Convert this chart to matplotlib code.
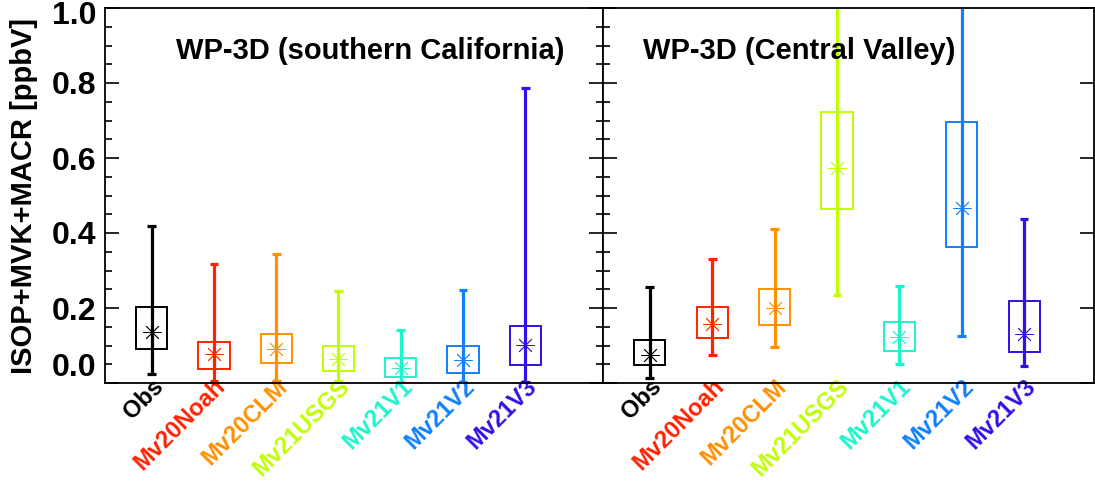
import numpy as np
import matplotlib
matplotlib.use('Agg')
import matplotlib.pyplot as plt
from matplotlib.ticker import MultipleLocator, FuncFormatter

plt.rcParams['font.family'] = 'Liberation Sans'
plt.rcParams['font.weight'] = 'bold'
plt.rcParams['axes.labelweight'] = 'bold'

labels = ['Obs', 'Mv20Noah', 'Mv20CLM', 'Mv21USGS', 'Mv21V1', 'Mv21V2', 'Mv21V3']
colors = ['#000000', '#FF2200', '#FF9000', '#BFFF00', '#1CF5CC', '#1080FF', '#3010E8']

# southern California: whisker low, box low, centre star, box high, whisker high
socal_lo = [0.024, 0.005, 0.005, 0.005, 0.002, 0.002, 0.002]
socal_q1 = [0.090, 0.037, 0.054, 0.033, 0.016, 0.028, 0.049]
socal_mid = [0.135, 0.077, 0.092, 0.065, 0.039, 0.062, 0.102]
socal_q3 = [0.203, 0.110, 0.130, 0.100, 0.067, 0.100, 0.152]
socal_hi = [0.419, 0.318, 0.343, 0.245, 0.141, 0.249, 0.787]

# Central Valley
cv_lo = [0.014, 0.074, 0.096, 0.236, 0.050, 0.126, 0.046]
cv_q1 = [0.049, 0.119, 0.154, 0.463, 0.086, 0.362, 0.083]
cv_mid = [0.074, 0.158, 0.199, 0.574, 0.124, 0.466, 0.131]
cv_q3 = [0.116, 0.202, 0.251, 0.723, 0.164, 0.696, 0.220]
cv_hi = [0.256, 0.331, 0.412, 1.100, 0.260, 1.200, 0.437]

fig = plt.figure(figsize=(10.95, 4.82), dpi=100)
ax1 = fig.add_axes([105/1095, 99/482, 498/1095, 375/482])
ax2 = fig.add_axes([603/1095, 99/482, 491/1095, 375/482])


def draw_boxes(ax, lo, q1, mid, q3, hi):
    x = np.arange(len(labels))
    ax.vlines(x, lo, hi, colors=colors, lw=2.3, zorder=2)
    ax.hlines(lo, x - 0.07, x + 0.07, colors=colors, lw=2.3, zorder=2)
    ax.hlines(hi, x - 0.07, x + 0.07, colors=colors, lw=2.3, zorder=2)
    ax.bar(x, np.array(q3) - np.array(q1), bottom=q1, width=0.5, fill=False,
           edgecolor=colors, lw=1.4, zorder=3)
    for xi, m, c in zip(x, mid, colors):
        ax.plot(xi, m, marker=(8, 2, 0), ms=13, mew=0.6, color=c, zorder=4)


draw_boxes(ax1, socal_lo, socal_q1, socal_mid, socal_q3, socal_hi)
draw_boxes(ax2, cv_lo, cv_q1, cv_mid, cv_q3, cv_hi)

ax1.set_xlim(-0.75, 7.25)
ax2.set_xlim(-0.75, 7.12)

for ax in (ax1, ax2):
    ax.set_ylim(0, 1.0)
    ax.yaxis.set_major_locator(MultipleLocator(0.2))
    ax.yaxis.set_minor_locator(MultipleLocator(0.05))
    ax.tick_params(axis='y', which='major', direction='in', length=10, width=1.2,
                   left=True, right=True, labelsize=23, pad=6)
    ax.tick_params(axis='y', which='minor', direction='in', length=5, width=1.2,
                   left=True, right=True)
    ax.set_xticks(np.arange(len(labels)))
    ax.set_xticklabels(labels, rotation=45, ha='right', va='top',
                       rotation_mode='anchor', fontsize=17)
    ax.tick_params(axis='x', length=0, pad=-6)
    for t, c in zip(ax.get_xticklabels(), colors):
        t.set_color(c)
    for s in ax.spines.values():
        s.set_linewidth(1.3)

ax2.tick_params(axis='y', labelleft=False)
ax2.tick_params(axis='y', which='minor', right=False)

# end labels 0.0 and 1.0 sit inside the frame, as in the original
ax1.yaxis.set_major_formatter(
    FuncFormatter(lambda v, p: '' if v < 0.01 or v > 0.99 else '%.1f' % v))
for v, dy in [(0.0, 11), (1.0, -6)]:
    ax1.annotate('%.1f' % v, xy=(0, v), xycoords=('axes fraction', 'data'),
                 xytext=(-6, dy), textcoords='offset points',
                 ha='right', va='center', fontsize=23, annotation_clip=False)

ax1.set_ylabel('ISOP+MVK+MACR [ppbV]', fontsize=21)
ax1.yaxis.set_label_coords(-0.135, 0.5)

ax1.text(0.532, 0.885, 'WP-3D (southern California)', transform=ax1.transAxes,
         ha='center', va='center', fontsize=21)
ax2.text(0.40, 0.885, 'WP-3D (Central Valley)', transform=ax2.transAxes,
         ha='center', va='center', fontsize=21)

fig.savefig('out.png', dpi=100)
